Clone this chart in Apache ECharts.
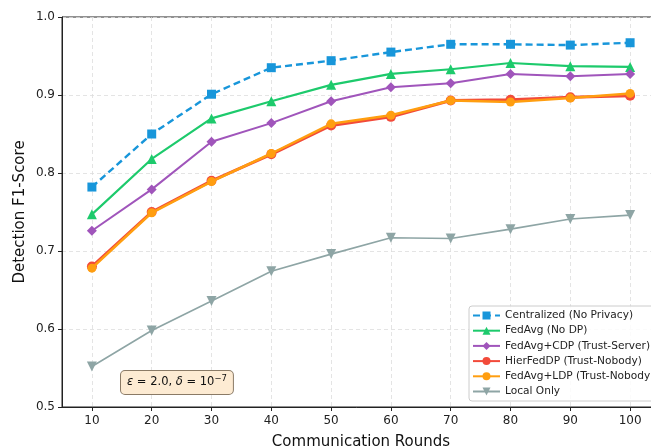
<!DOCTYPE html>
<html><head><meta charset="utf-8">
<script src="https://cdn.jsdelivr.net/npm/echarts@6/dist/echarts.min.js"></script>
<style>html,body{margin:0;padding:0;background:#fff}#c{width:651px;height:448px}</style>
</head><body><div id="c"></div>
<script>
const rounds = [10, 20, 30, 40, 50, 60, 70, 80, 90, 100];
const centralized = [0.782, 0.850, 0.901, 0.935, 0.944, 0.955, 0.965, 0.965, 0.964, 0.967];
const fedavg      = [0.747, 0.818, 0.870, 0.892, 0.913, 0.927, 0.933, 0.941, 0.937, 0.936];
const fedavgCDP   = [0.726, 0.779, 0.840, 0.864, 0.892, 0.910, 0.915, 0.927, 0.924, 0.927];
const hierFedDP   = [0.680, 0.750, 0.790, 0.824, 0.861, 0.872, 0.893, 0.894, 0.897, 0.899];
const fedavgLDP   = [0.678, 0.749, 0.789, 0.825, 0.863, 0.874, 0.893, 0.891, 0.896, 0.902];
const localOnly   = [0.552, 0.598, 0.636, 0.674, 0.696, 0.717, 0.716, 0.728, 0.741, 0.746];
const yTicks = [0.5, 0.6, 0.7, 0.8, 0.9, 1.0];

const F = 'DejaVu Sans';
const pair = arr => rounds.map((r, i) => [r, arr[i]]);
function mk(name, data, color, symbol, size, width, dashed, z) {
  return {
    name, type: 'line', data: pair(data), symbol, symbolSize: size, z: z,
    lineStyle: { color, width, type: dashed ? [7, 4] : 'solid' },
    itemStyle: { color },
    emphasis: { disabled: true }, animation: false
  };
}
const chart = echarts.init(document.getElementById('c'), null, { renderer: 'canvas' });
chart.setOption({
  animation: false,
  grid: { left: 62, right: -9, top: 17, bottom: 41, outerBoundsMode: 'none', containLabel: false,
          show: true, borderColor: '#222', borderWidth: 1, backgroundColor: 'transparent' },
  xAxis: {
    type: 'value', min: 5, max: 105,
    name: 'Communication Rounds', nameLocation: 'middle', nameGap: 28,
    nameTextStyle: { fontFamily: F, fontSize: 15, color: '#111' },
    axisLine: { show: true, onZero: false, lineStyle: { color: '#222', width: 1 } },
    axisTick: { show: true, inside: false, length: 4, customValues: rounds, lineStyle: { color: '#222' } },
    axisLabel: { customValues: rounds, fontFamily: F, fontSize: 12, color: '#222', margin: 8 },
    splitLine: { show: true, lineStyle: { color: '#ddd', type: [4, 3], width: 0.8 } }
  },
  yAxis: {
    type: 'value', min: 0.5, max: 1.0, interval: 0.1,
    name: 'Detection F1-Score', nameLocation: 'middle', nameGap: 34, nameMoveOverlap: false,
    nameTextStyle: { fontFamily: F, fontSize: 15, color: '#111' },
    axisLine: { show: true, lineStyle: { color: '#222', width: 1 } },
    axisTick: { show: true, length: 4, lineStyle: { color: '#222' } },
    axisLabel: { fontFamily: F, fontSize: 12, color: '#222', margin: 7, formatter: v => v.toFixed(1) },
    splitLine: { show: true, lineStyle: { color: '#ddd', type: [4, 3], width: 0.8 } }
  },
  legend: {
    left: 469, top: 306, orient: 'vertical', itemGap: 4.2, itemWidth: 27, itemHeight: 10,
    backgroundColor: 'rgba(255,255,255,0.85)', borderColor: '#ccc', borderWidth: 1, borderRadius: 3,
    padding: [4, 20, 4, 3],
    textStyle: { fontFamily: F, fontSize: 10.6, color: '#222' },
    data: ['Centralized (No Privacy)', 'FedAvg (No DP)', 'FedAvg+CDP (Trust-Server)', 'HierFedDP (Trust-Nobody)', 'FedAvg+LDP (Trust-Nobody)', 'Local Only']
  },
  series: [
    mk('Centralized (No Privacy)', centralized, '#1896da', 'rect', 9, 2.4, true, 3),
    mk('FedAvg (No DP)', fedavg, '#1dca6c', 'triangle', 10, 2.2, false, 3),
    mk('FedAvg+CDP (Trust-Server)', fedavgCDP, '#a055bb', 'diamond', 10, 2, false, 3),
    mk('HierFedDP (Trust-Nobody)', hierFedDP, '#f24a3a', 'circle', 10, 3, false, 4),
    mk('FedAvg+LDP (Trust-Nobody)', fedavgLDP, '#ff9e10', 'circle', 9, 2.5, false, 5),
    mk('Local Only', localOnly, '#8ea5a5', 'path://M-1,-1 L1,-1 L0,1 Z', 10, 1.6, false, 2)
  ],
  graphic: [{
    type: 'text', left: 120, top: 370, z: 10,
    style: {
      rich: {
        i: { fontFamily: F, fontStyle: 'italic', fontSize: 11.5, fill: '#111' },
        n: { fontFamily: F, fontSize: 11.5, fill: '#111' },
        s: { fontFamily: F, fontSize: 8.5, fill: '#111', padding: [0, 0, 8, 0] }
      },
      text: '{i|ε}{n| = 2.0, }{i|δ}{n| = 10}{s|−7}',
      backgroundColor: '#fdebd3', borderColor: '#8a7a66', borderWidth: 1, borderRadius: 4,
      padding: [3, 6, 3, 6]
    }
  }]
});
</script></body></html>
